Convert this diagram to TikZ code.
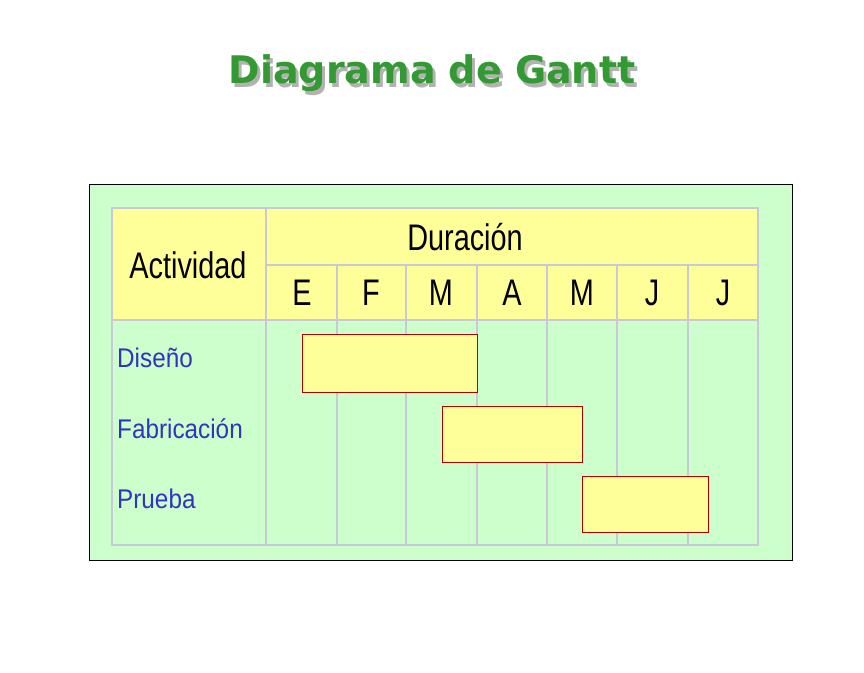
\documentclass[tikz,border=0pt]{standalone}
\usepackage{fontspec}
\setmainfont{Liberation Sans}
\newfontfamily\titlefont{DejaVu Sans}
\begin{document}
\begin{tikzpicture}[x=1pt,y=-1pt,
  bar/.style={draw=red!70!black,line width=0.8pt},
  hdr/.style={font=\fontsize{37}{37}\selectfont,xscale=0.78,inner sep=0},
  lbl/.style={font=\fontsize{27}{27}\selectfont,text=blue!70!black!80,anchor=west,inner sep=0,xscale=0.9}]
\useasboundingbox (0,0) rectangle (864,672);
\definecolor{lg}{RGB}{204,255,204}
\definecolor{ly}{RGB}{255,255,153}
\definecolor{gr}{RGB}{200,200,215}
\definecolor{tg}{RGB}{51,153,51}
\draw[fill=lg,draw=black,line width=0.6pt] (89,184) rectangle (792,560);
\fill[ly] (112,208) rectangle (758,320);
\draw[draw=gr,line width=2pt] (112,208) rectangle (758,545);
\draw[draw=gr,line width=2pt] (266,208) -- (266,545) (112,320) -- (758,320) (266,265) -- (758,265);
\foreach \x in {337,406,477,547,617,688} \draw[draw=gr,line width=2pt] (\x,265) -- (\x,545);
\node[text=gray!60,font=\titlefont\bfseries\fontsize{38}{38}\selectfont] (ts) at (435,77) {Diagrama de Gantt};
\node[text=tg,font=\titlefont\bfseries\fontsize{38}{38}\selectfont] (t) at (432,73) {Diagrama de Gantt};
\node[hdr] (act) at (188,265) {Actividad};
\node[hdr] (dur) at (465,237) {Duración};
\foreach \m/\x [count=\i] in {E/302,F/371,M/441,A/512,M/582,J/652,J/723} \node[hdr] (m\i) at (\x,293) {\m};
\node[lbl] (l1) at (117,358) {Diseño};
\node[lbl] (l2) at (117,429) {Fabricación};
\node[lbl] (l3) at (117,499) {Prueba};
\draw[bar,fill=ly] (302,334) rectangle (477,392);
\draw[bar,fill=ly] (442,406) rectangle (582,462);
\draw[bar,fill=ly] (582,476) rectangle (708,532);
\end{tikzpicture}
\end{document}
